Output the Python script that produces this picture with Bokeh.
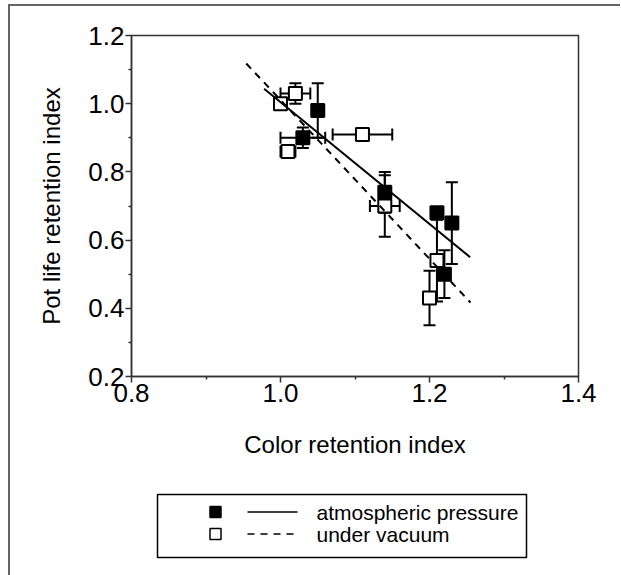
from bokeh.plotting import figure
from bokeh.models import Range1d, FixedTicker, Whisker, ColumnDataSource, TeeHead, PrintfTickFormatter
from bokeh.layouts import column
from bokeh.embed import file_html
from bokeh.resources import INLINE
from bokeh.core.properties import value

# ---------------- data ----------------
atm_x = [1.03, 1.05, 1.14, 1.21, 1.23, 1.22]
atm_y = [0.90, 0.98, 0.74, 0.68, 0.65, 0.50]
atm_xerr = [0.03, 0.0, 0.0, 0.0, 0.0, 0.0]
atm_yerr = [0.03, 0.08, 0.06, 0.0, 0.12, 0.07]

vac_x = [1.00, 1.02, 1.01, 1.11, 1.14, 1.21, 1.20]
vac_y = [1.00, 1.03, 0.86, 0.91, 0.70, 0.54, 0.43]
vac_xerr = [0.0, 0.02, 0.01, 0.04, 0.02, 0.0, 0.0]
vac_yerr = [0.0, 0.03, 0.01, 0.01, 0.09, 0.12, 0.08]

atm_fit_x = [0.978, 1.2545]
atm_fit_y = [1.044, 0.550]
vac_fit_x = [0.954, 1.255]
vac_fit_y = [1.118, 0.417]

x_ticks = [0.8, 1.0, 1.2, 1.4]
x_minor = [0.9, 1.1, 1.3]
y_ticks = [0.2, 0.4, 0.6, 0.8, 1.0, 1.2]
y_minor = [0.3, 0.5, 0.7, 0.9, 1.1]

series_labels = ["atmospheric pressure", "under vacuum"]
x_title = "Color retention index"
y_title = "Pot life retention index"

FONT = "Liberation Sans"
AX = "#333333"
FRAME_W = 447

p = figure(width=600, height=464, x_range=Range1d(0.8, 1.4), y_range=Range1d(0.2, 1.2),
           output_backend="svg", toolbar_location=None,
           min_border_left=121, min_border_right=32, min_border_top=29, min_border_bottom=94)
p.xgrid.visible = False
p.ygrid.visible = False
p.outline_line_color = AX
p.outline_line_width = 1.5
p.background_fill_color = "white"
p.border_fill_color = "white"

p.xaxis.ticker = FixedTicker(ticks=x_ticks, minor_ticks=x_minor)
p.yaxis.ticker = FixedTicker(ticks=y_ticks, minor_ticks=y_minor)
p.xaxis.axis_label = x_title
p.yaxis.axis_label = y_title
for ax in (p.xaxis[0], p.yaxis[0]):
    ax.formatter = PrintfTickFormatter(format="%.1f")
    ax.axis_line_color = AX
    ax.axis_line_width = 1.5
    ax.major_tick_line_color = AX
    ax.major_tick_line_width = 1.5
    ax.minor_tick_line_color = AX
    ax.minor_tick_line_width = 1.5
    ax.major_tick_in = 0
    ax.major_tick_out = 6
    ax.minor_tick_in = 0
    ax.minor_tick_out = 3
    ax.major_label_text_font = FONT
    ax.major_label_text_font_size = "26px"
    ax.major_label_text_color = "black"
    ax.axis_label_text_font = FONT
    ax.axis_label_text_font_size = "24px"
    ax.axis_label_text_font_style = "normal"
    ax.axis_label_text_color = "black"
p.xaxis.major_label_standoff = 1
p.yaxis.major_label_standoff = 1
p.xaxis.axis_label_standoff = 26
p.yaxis.axis_label_standoff = 20


def add_errors(xs, ys, xerr, yerr):
    vy = [(x, y, e) for x, y, e in zip(xs, ys, yerr) if e > 0]
    vx = [(x, y, e) for x, y, e in zip(xs, ys, xerr) if e > 0]
    if vy:
        s = ColumnDataSource(dict(base=[a[0] for a in vy],
                                  lower=[a[1] - a[2] for a in vy],
                                  upper=[a[1] + a[2] for a in vy]))
        p.add_layout(Whisker(source=s, base="base", lower="lower", upper="upper",
                             dimension="height", line_color="black", line_width=2,
                             upper_head=TeeHead(size=12, line_width=2, line_color="black"),
                             lower_head=TeeHead(size=12, line_width=2, line_color="black"),
                             level="underlay"))
    if vx:
        s = ColumnDataSource(dict(base=[a[1] for a in vx],
                                  lower=[a[0] - a[2] for a in vx],
                                  upper=[a[0] + a[2] for a in vx]))
        p.add_layout(Whisker(source=s, base="base", lower="lower", upper="upper",
                             dimension="width", line_color="black", line_width=2,
                             upper_head=TeeHead(size=12, line_width=2, line_color="black"),
                             lower_head=TeeHead(size=12, line_width=2, line_color="black"),
                             level="underlay"))


add_errors(atm_x, atm_y, atm_xerr, atm_yerr)
add_errors(vac_x, vac_y, vac_xerr, vac_yerr)

p.scatter(vac_x, vac_y, marker="square", size=13, fill_color="white", line_color="black", line_width=2)
p.scatter(atm_x, atm_y, marker="square", size=13, fill_color="black", line_color="black", line_width=2)
p.line(atm_fit_x, atm_fit_y, line_color="black", line_width=2)
p.line(vac_fit_x, vac_fit_y, line_color="black", line_width=2, line_dash="7 6")

# ---------------- legend panel (frame aligned with the plot frame) ----------------
lg = figure(width=600, height=100, x_range=Range1d(0, FRAME_W), y_range=Range1d(100, 0),
            output_backend="svg", toolbar_location=None, x_axis_type=None, y_axis_type=None,
            min_border=0)
lg.xgrid.visible = False
lg.ygrid.visible = False
lg.outline_line_color = None
lg.quad(left=[26], right=[395], top=[24], bottom=[87], fill_color=None,
        line_color="black", line_width=1.5)
row_y = [41.5, 63.5]
lg.scatter([84], [row_y[0]], marker="square", size=11, fill_color="black", line_color="black", line_width=1.5)
lg.scatter([84], [row_y[1]], marker="square", size=11, fill_color="white", line_color="black", line_width=1.5)
lg.line([116, 166], [row_y[0], row_y[0]], line_color="black", line_width=1.5)
lg.line([116, 166], [row_y[1], row_y[1]], line_color="black", line_width=1.5, line_dash="7 6")
lg.text(x=[185, 185], y=row_y, text=series_labels, text_font=value(FONT),
        text_font_size="21px", text_baseline="middle", text_align="left", text_color="black")

layout = column(p, lg, spacing=0,
                styles={"margin-left": "8px", "margin-top": "4px",
                        "padding-right": "10px", "padding-bottom": "5px",
                        "border-top": "2px solid #666666", "border-left": "2px solid #666666"})

open("out.html", "w").write(file_html(layout, INLINE))
